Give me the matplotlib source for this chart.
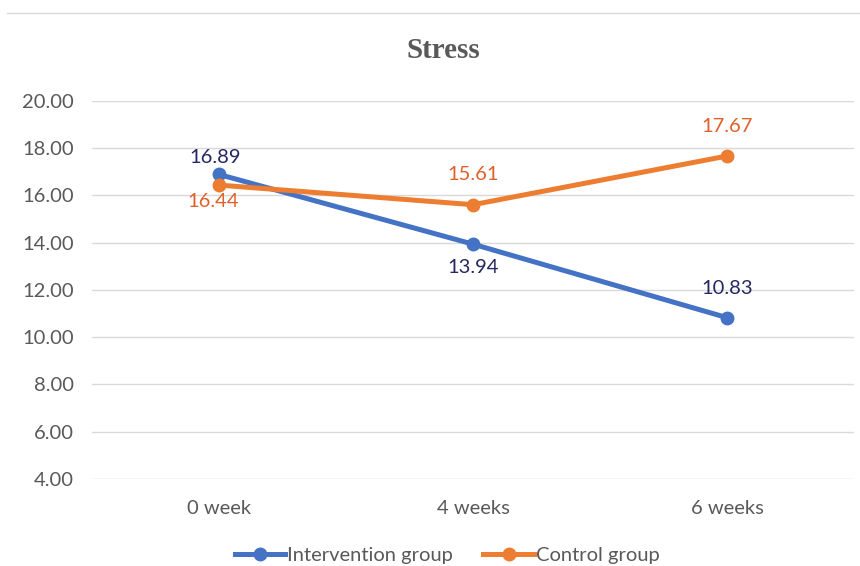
import matplotlib.pyplot as plt
from matplotlib.lines import Line2D

weeks = ['0 week', '4 weeks', '6 weeks']
intervention = [16.89, 13.94, 10.83]
control = [16.44, 15.61, 17.67]
yticks = [4, 6, 8, 10, 12, 14, 16, 18, 20]

# label offsets in points (dx, dy)
int_off = [(-3, 12), (0, -17), (0, 21)]
ctl_off = [(-4, -11.5), (0, 21.5), (0, 21)]

blue = '#4472C4'
orange = '#ED7D31'
blue_txt = '#262661'
orange_txt = '#E0602A'
grey = '#595959'

plt.rcParams['font.family'] = ['Lato', 'DejaVu Sans']

fig = plt.figure(figsize=(8.6, 5.66), dpi=100)
ax = fig.add_axes([0.107, 0.1537, 0.886, 0.6679])

x = list(range(len(weeks)))
ax.plot(x, intervention, color=blue, lw=3.6, marker='o', ms=9, zorder=3)
ax.plot(x, control, color=orange, lw=3.6, marker='o', ms=9, zorder=4)

for xi, v, o in zip(x, intervention, int_off):
    ax.annotate(f'{v:.2f}', (xi, v), xytext=o, textcoords='offset points',
                ha='center', va='center', fontsize=14.5, color=blue_txt)
for xi, v, o in zip(x, control, ctl_off):
    ax.annotate(f'{v:.2f}', (xi, v), xytext=o, textcoords='offset points',
                ha='center', va='center', fontsize=14.5, color=orange_txt)

ax.set_xlim(-0.5, 2.5)
ax.set_ylim(4, 20)
ax.set_yticks(yticks)
ax.set_yticklabels([f'{t:.2f}' for t in yticks])
ax.set_xticks(x)
ax.set_xticklabels(weeks)
ax.tick_params(length=0, labelsize=14.5, labelcolor=grey)
ax.tick_params(axis='y', pad=13)
ax.tick_params(axis='x', pad=15)
ax.grid(axis='y', color='#D9D9D9', lw=1)
ax.set_axisbelow(True)
for s in ax.spines.values():
    s.set_visible(False)

fig.text(0.516, 0.911, 'Stress', ha='center', va='center', fontsize=21,
         fontweight='bold', color=grey, family='Liberation Serif')

# thin border line at top of the chart
fig.add_artist(Line2D([0.008, 1.0], [0.977, 0.977], color='#D9D9D9', lw=1))

handles = [Line2D([0], [0], color=blue, lw=3.6, marker='o', ms=9),
           Line2D([0], [0], color=orange, lw=3.6, marker='o', ms=9)]
fig.legend(handles, ['Intervention group', 'Control group'], loc='center',
           bbox_to_anchor=(0.52, 0.019), ncol=2, frameon=False, fontsize=14.5,
           labelcolor=grey, handlelength=2.5, handletextpad=0.1, columnspacing=1.5)

fig.savefig('out.png', dpi=100)
